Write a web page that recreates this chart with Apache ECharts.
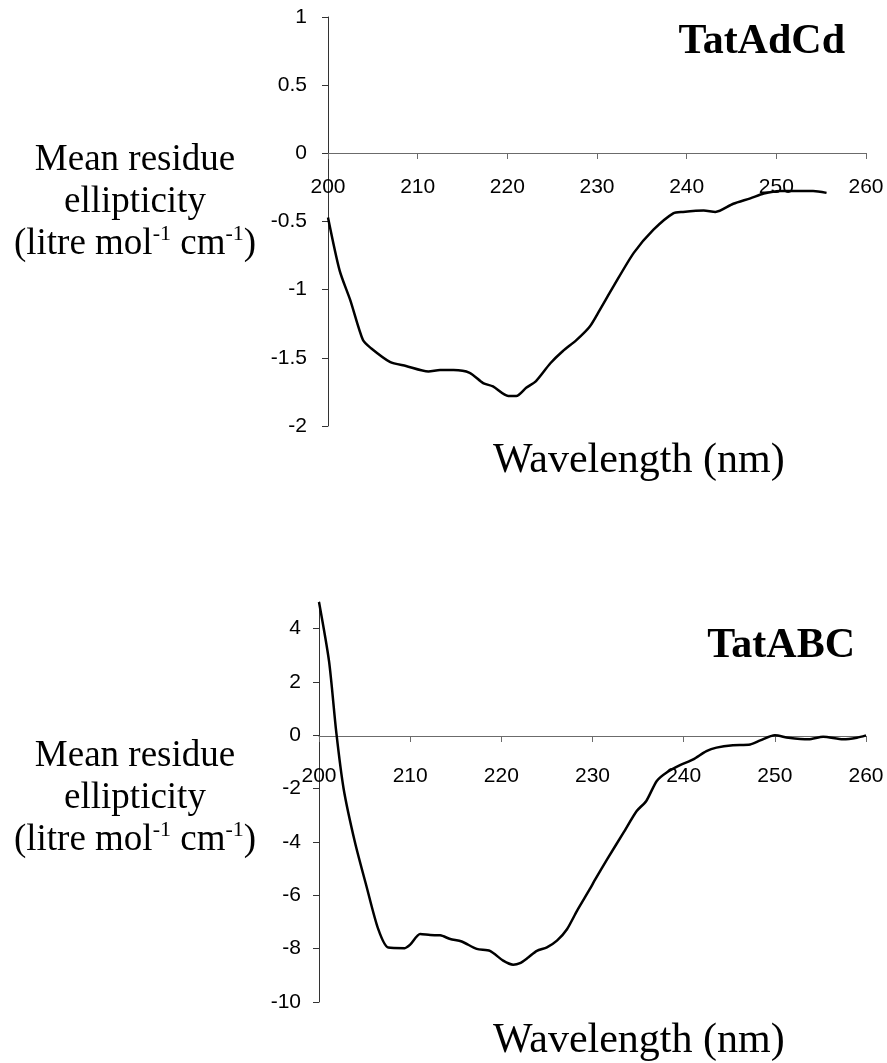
<!DOCTYPE html>
<html>
<head>
<meta charset="utf-8">
<script src="https://cdn.jsdelivr.net/npm/echarts@6/dist/echarts.min.js"></script>
<style>
  html, body { margin: 0; padding: 0; background: #fff; }
  #chart { width: 887px; height: 1063px; }
</style>
</head>
<body>
<div id="chart"></div>
<script>
// TatAdCd spectrum (top panel)
var adcdWavelength = [200, 201.3, 202.5, 203.9, 204.8, 206.9, 208.7, 211.2, 212.5, 214, 215.8, 217.3, 218.4, 220.1, 221, 222.1, 223.2, 224.8, 226.2, 227.7, 229.2, 230.3, 231.8, 234.1, 236.3, 238.5, 239.6, 241.9, 243.2, 245.2, 247.1, 248.6, 250.4, 254.1, 255.6];
var adcdEllipticity = [-0.47, -0.86, -1.08, -1.37, -1.43, -1.53, -1.56, -1.60, -1.59, -1.59, -1.61, -1.685, -1.71, -1.78, -1.78, -1.72, -1.67, -1.54, -1.45, -1.37, -1.27, -1.15, -0.98, -0.73, -0.56, -0.44, -0.43, -0.42, -0.43, -0.37, -0.33, -0.295, -0.276, -0.276, -0.29];

// TatABC spectrum (bottom panel)
var abcWavelength = [200, 201.1, 201.9, 202.7, 203.95, 205.2, 206.5, 207.6, 209.4, 210, 211.1, 212.2, 213.3, 214.4, 215.65, 217.3, 218.75, 220.2, 221.3, 222.05, 222.95, 223.9, 225, 226.1, 227.2, 228.3, 229.7, 230.3, 231.6, 233.4, 234.85, 235.9, 237.05, 238.1, 239.6, 241.05, 242.5, 243.6, 245.4, 247.3, 248.4, 250, 251.5, 253.7, 255.3, 257.5, 259, 260];
var abcEllipticity = [5.0, 2.78, 0.1, -2.0, -4.02, -5.65, -7.27, -7.96, -7.98, -7.85, -7.45, -7.49, -7.5, -7.64, -7.73, -8.01, -8.08, -8.45, -8.6, -8.54, -8.33, -8.08, -7.95, -7.7, -7.27, -6.58, -5.77, -5.4, -4.65, -3.65, -2.84, -2.46, -1.71, -1.4, -1.12, -0.9, -0.59, -0.46, -0.37, -0.34, -0.19, 0, -0.09, -0.15, -0.05, -0.15, -0.09, 0];

var abcYTicks = [-10, -8, -6, -4, -2, 0, 2, 4];

function zip(xs, ys){
    var out = [];
    for (var i = 0; i < xs.length; i++) out.push([xs[i], ys[i]]);
    return out;
}

var serif = "'Liberation Serif', 'Times New Roman', serif";
var sans = "'Liberation Sans', Arial, sans-serif";

// hidden x axis of the data grid
function dataXAxis(idx){
    return { type: 'value', gridIndex: idx, min: 200, max: 260, show: false };
}
// visible x axis, drawn on a strip grid whose bottom is the zero line
function zeroXAxis(idx, margin){
    return {
        type: 'value', gridIndex: idx, min: 200, max: 260, interval: 10, position: 'bottom',
        axisLine: { show: true, onZero: false, lineStyle: { color: '#6b6b6b', width: 1 } },
        axisTick: { show: true, length: 6, lineStyle: { color: '#6b6b6b' } },
        axisLabel: { color: '#000', fontSize: 21, fontFamily: sans, margin: margin },
        splitLine: { show: false }
    };
}
function stripYAxis(idx){
    return { type: 'value', gridIndex: idx, min: 0, max: 1, show: false };
}

var yNameText = 'Mean residue\nellipticity\n(litre mol{sup|-1} cm{sup|-1})';
function yName(top){
    return {
        type: 'text', x: 135, y: top,
        style: {
            text: yNameText, align: 'center', verticalAlign: 'top',
            font: '37px ' + serif, fill: '#000', lineHeight: 42,
            rich: { sup: { fontSize: 22, fontFamily: serif, verticalAlign: 'top', lineHeight: 22 } }
        }
    };
}

var chart = echarts.init(document.getElementById('chart'));
chart.setOption({
    animation: false,
    backgroundColor: '#fff',
    title: [
        { text: 'TatAdCd', right: 42, top: 21, padding: 0,
          textStyle: { fontFamily: serif, fontWeight: 'bold', fontSize: 42, color: '#000', lineHeight: 42 } },
        { text: 'TatABC', right: 32, top: 625, padding: 0,
          textStyle: { fontFamily: serif, fontWeight: 'bold', fontSize: 42, color: '#000', lineHeight: 42 } },
        { text: 'Wavelength (nm)', left: 493, top: 440, padding: 0,
          textStyle: { fontFamily: serif, fontWeight: 'normal', fontSize: 42, color: '#000', lineHeight: 42 } },
        { text: 'Wavelength (nm)', left: 493, top: 1020, padding: 0,
          textStyle: { fontFamily: serif, fontWeight: 'normal', fontSize: 42, color: '#000', lineHeight: 42 } }
    ],
    graphic: [ yName(139), yName(735) ],
    grid: [
        { left: 328, width: 538, top: 17, height: 409 },
        { left: 319, width: 547, top: 602, height: 400 },
        { left: 328, width: 538, top: 17, height: 136 },
        { left: 319, width: 547, top: 602, height: 134 }
    ],
    xAxis: [ dataXAxis(0), dataXAxis(1), zeroXAxis(2, 24), zeroXAxis(3, 30) ],
    yAxis: [
        {
            type: 'value', gridIndex: 0, min: -2, max: 1, interval: 0.5,
            axisLine: { show: true, onZero: false, lineStyle: { color: '#333', width: 1 } },
            axisTick: { show: true, length: 6, lineStyle: { color: '#333' } },
            axisLabel: { color: '#000', fontSize: 21, fontFamily: sans, margin: 21 },
            splitLine: { show: false }
        },
        {
            type: 'value', gridIndex: 1, min: -10, max: 5, interval: 2,
            axisLine: { show: true, onZero: false, lineStyle: { color: '#333', width: 1 } },
            axisTick: { show: true, length: 6, lineStyle: { color: '#333' }, customValues: abcYTicks },
            axisLabel: { color: '#000', fontSize: 21, fontFamily: sans, margin: 18, customValues: abcYTicks },
            splitLine: { show: false }
        },
        stripYAxis(2),
        stripYAxis(3)
    ],
    series: [
        {
            name: 'TatAdCd', type: 'line', xAxisIndex: 0, yAxisIndex: 0,
            data: zip(adcdWavelength, adcdEllipticity),
            showSymbol: false, smooth: 0.25, z: 5,
            lineStyle: { color: '#000', width: 2.5 }
        },
        {
            name: 'TatABC', type: 'line', xAxisIndex: 1, yAxisIndex: 1,
            data: zip(abcWavelength, abcEllipticity),
            showSymbol: false, smooth: 0.25, z: 5,
            lineStyle: { color: '#000', width: 2.5 }
        }
    ]
});
</script>
</body>
</html>
